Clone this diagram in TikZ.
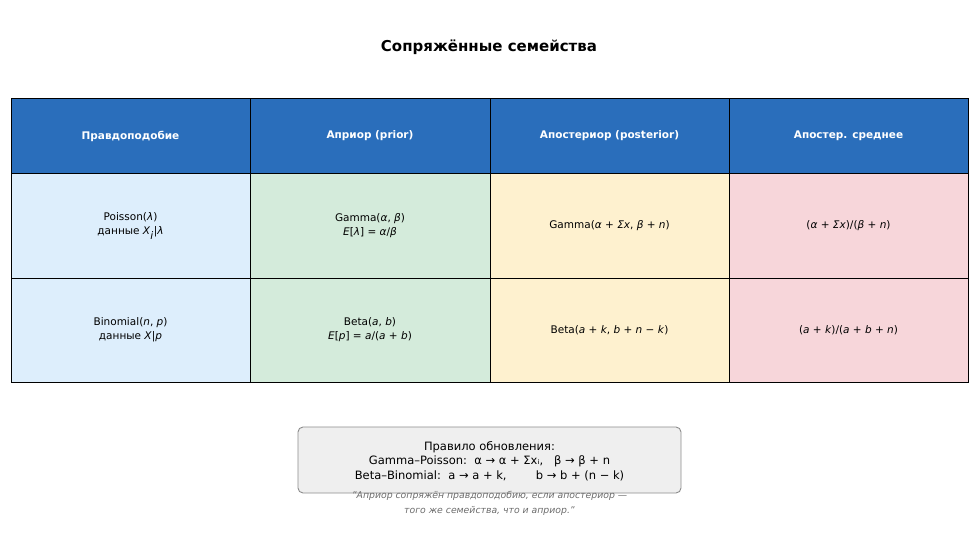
\documentclass[tikz,border=0pt]{standalone}
\usepackage{fontspec}
\setmainfont{DejaVu Sans}
\definecolor{hdr}{HTML}{2A6EBB}
\definecolor{cb}{HTML}{DDEEFC}
\definecolor{cg}{HTML}{D4EBDB}
\definecolor{cy}{HTML}{FEF1CF}
\definecolor{cp}{HTML}{F7D6DA}
\definecolor{boxf}{HTML}{EFEFEF}
\newcommand{\mi}[1]{\textit{#1}}
\begin{document}
\begin{tikzpicture}[x=1pt,y=-1pt,
  cell/.style={draw=black,line width=0.9pt},
  txt/.style={align=center,font=\fontsize{10.5}{14}\selectfont},
  htxt/.style={align=center,text=white,font=\bfseries\fontsize{10.5}{13}\selectfont}]
\useasboundingbox (0,0) rectangle (978,538);
\node[font=\bfseries\fontsize{15}{18}\selectfont] (title) at (489,47) {Сопряжённые семейства};
% cells
\foreach \x/\xx [count=\i] in {11/250,250/490,490/729,729/968}{
  \draw[cell,fill=hdr] (\x,98) rectangle (\xx,173);
}
\draw[cell,fill=cb] (11,173) rectangle (250,278);
\draw[cell,fill=cg] (250,173) rectangle (490,278);
\draw[cell,fill=cy] (490,173) rectangle (729,278);
\draw[cell,fill=cp] (729,173) rectangle (968,278);
\draw[cell,fill=cb] (11,278) rectangle (250,382);
\draw[cell,fill=cg] (250,278) rectangle (490,382);
\draw[cell,fill=cy] (490,278) rectangle (729,382);
\draw[cell,fill=cp] (729,278) rectangle (968,382);
\node[htxt] (h1) at (130.5,136) {Правдоподобие};
\node[htxt] (h2) at (370,136) {Априор (prior)};
\node[htxt] (h3) at (609.5,136) {Апостериор (posterior)};
\node[htxt] (h4) at (848.5,136) {Апостер. среднее};
\node[txt] (a1) at (130.5,226) {Poisson(\mi{λ})\\данные \mi{X}$_{\mi{i}}$|\mi{λ}};
\node[txt] (a2) at (370,226) {Gamma(\mi{α}, \mi{β})\\\mi{E}[\mi{λ}] = \mi{α}/\mi{β}};
\node[txt] (a3) at (609.5,226) {Gamma(\mi{α} + \mi{Σx}, \mi{β} + \mi{n})};
\node[txt] (a4) at (848.5,226) {(\mi{α} + \mi{Σx})/(\mi{β} + \mi{n})};
\node[txt] (b1) at (130.5,330) {Binomial(\mi{n}, \mi{p})\\данные \mi{X}|\mi{p}};
\node[txt] (b2) at (370,330) {Beta(\mi{a}, \mi{b})\\\mi{E}[\mi{p}] = \mi{a}/(\mi{a} + \mi{b})};
\node[txt] (b3) at (609.5,330) {Beta(\mi{a} + \mi{k}, \mi{b} + \mi{n} − \mi{k})};
\node[txt] (b4) at (848.5,330) {(\mi{a} + \mi{k})/(\mi{a} + \mi{b} + \mi{n})};
\draw[rounded corners=5pt,draw=gray!90,fill=boxf,line width=0.9pt] (298,427) rectangle (681,493);
\node[align=center,font=\fontsize{11.5}{14.5}\selectfont] (rule) at (489.5,461) {Правило обновления:\\Gamma–Poisson:\ \ α → α + Σxᵢ,\ \ \ β → β + n\\Beta–Binomial:\ \ a → a + k,\ \ \ \ \ \ \ \ b → b + (n − k)};
\node[align=center,text=gray!85!black,font=\itshape\fontsize{9.3}{15}\selectfont] (cap) at (489.5,503) {"Априор сопряжён правдоподобию, если апостериор —\\того же семейства, что и априор."};
\end{tikzpicture}
\end{document}
